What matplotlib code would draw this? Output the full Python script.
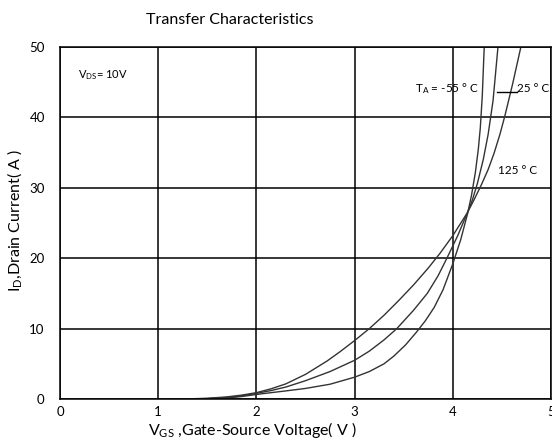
import matplotlib
matplotlib.use('Agg')
from matplotlib import pyplot as plt

plt.rcParams['font.family'] = ['Lato', 'DejaVu Sans']
plt.rcParams['mathtext.default'] = 'regular'

# values (Vgs in V, Id in A)
vgs_125 = [1.1, 1.3, 1.5, 1.7, 1.85, 2.0, 2.15, 2.3, 2.5, 2.72, 2.85, 3.0, 3.15, 3.3, 3.45, 3.6,
           3.75, 3.87, 4.0, 4.1, 4.15, 4.22, 4.29, 4.36, 4.42, 4.48, 4.53, 4.61, 4.69]
id_125 = [0.0, 0.02, 0.1, 0.3, 0.55, 0.9, 1.45, 2.15, 3.5, 5.4, 6.7, 8.3, 10.0, 11.9, 14.0, 16.2,
          18.6, 20.7, 23.2, 25.4, 26.5, 28.4, 30.4, 32.6, 34.9, 37.6, 40.2, 44.8, 49.8]

vgs_25 = [1.1, 1.3, 1.5, 1.7, 1.85, 2.0, 2.15, 2.3, 2.5, 2.75, 3.0, 3.15, 3.3, 3.43, 3.6, 3.74,
          3.85, 3.94, 4.05, 4.15, 4.2, 4.25, 4.31, 4.36, 4.41, 4.46]
id_25 = [0.0, 0.01, 0.06, 0.2, 0.45, 0.8, 1.2, 1.7, 2.6, 3.9, 5.5, 6.8, 8.4, 10.0, 12.6, 15.0,
         17.5, 20.0, 23.2, 26.5, 28.3, 30.6, 34.0, 37.6, 42.4, 50.0]

vgs_m55 = [1.1, 1.3, 1.5, 1.7, 1.85, 2.0, 2.15, 2.3, 2.5, 2.75, 3.0, 3.15, 3.3, 3.4, 3.52, 3.63,
           3.72, 3.81, 3.9, 4.0, 4.08, 4.15, 4.19, 4.23, 4.26, 4.28, 4.3, 4.31, 4.32]
id_m55 = [0.0, 0.01, 0.04, 0.15, 0.35, 0.65, 0.9, 1.15, 1.5, 2.1, 3.1, 3.9, 5.0, 6.1, 7.7, 9.5,
          11.1, 13.0, 15.5, 19.2, 22.6, 26.3, 28.9, 32.2, 35.5, 38.5, 43.0, 46.5, 50.0]

x_ticks = [0, 1, 2, 3, 4, 5]
y_ticks = [0, 10, 20, 30, 40, 50]

fig = plt.figure(figsize=(5.52, 4.43), dpi=100)
ax = fig.add_axes([60 / 552, 1 - 399 / 443, 491 / 552, 352 / 443])

for v, i in [(vgs_125, id_125), (vgs_25, id_25), (vgs_m55, id_m55)]:
    ax.plot(v, i, color='#333333', linewidth=1.0)

ax.set_xlim(0, 5)
ax.set_ylim(0, 50)
ax.set_xticks(x_ticks)
ax.set_yticks(y_ticks)
ax.grid(True, color='black', linewidth=1.1)
for s in ax.spines.values():
    s.set_color('black')
    s.set_linewidth(1.1)
ax.tick_params(length=0, labelsize=9.5, pad=5)
ax.tick_params(axis='y', pad=11)

ax.text(0.18, 46.0, '$V_{DS}$= 10V', fontsize=8, va='center')
ax.text(3.61, 44.1, '$T_A$ = -55 ° C', fontsize=8.5, va='center')
ax.text(4.65, 44.1, '25 ° C', fontsize=8.5, va='center')
ax.plot([4.45, 4.65], [43.6, 43.6], color='black', linewidth=1.0)
ax.text(4.46, 32.5, '125 ° C', fontsize=8.5, va='center')

fig.text(230 / 552, 1 - 20 / 443, 'Transfer Characteristics', ha='center', va='center', fontsize=11.5)
fig.text(252 / 552, 1 - 430 / 443, '$V_{GS}$ ,Gate-Source Voltage( V )', ha='center', va='center',
         fontsize=11.5)
fig.text(15 / 552, 1 - 220 / 443, '$I_D$,Drain Current( A )', ha='center', va='center',
         rotation=90, fontsize=11.5)

plt.savefig('out.png', dpi=100)
